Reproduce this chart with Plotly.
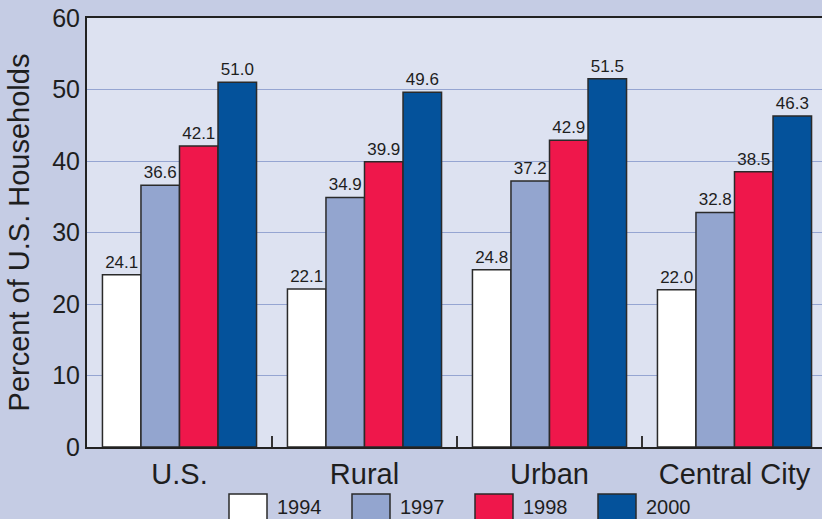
import plotly.graph_objects as go

categories = ["U.S.", "Rural", "Urban", "Central City"]
years = ["1994", "1997", "1998", "2000"]
values_1994 = [24.1, 22.1, 24.8, 22.0]
values_1997 = [36.6, 34.9, 37.2, 32.8]
values_1998 = [42.1, 39.9, 42.9, 38.5]
values_2000 = [51.0, 49.6, 51.5, 46.3]
y_ticks = [0, 10, 20, 30, 40, 50, 60]

series = [values_1994, values_1997, values_1998, values_2000]
colors = ["#ffffff", "#93a5cf", "#ef174b", "#04529b"]
FONT = "Liberation Sans, Arial, Helvetica, sans-serif"
TXT = "#1e1e1e"

xpos = list(range(len(categories)))
fig = go.Figure()
for yr, vals, col in zip(years, series, colors):
    fig.add_trace(go.Bar(
        x=xpos, y=vals, name=yr,
        marker=dict(color=col, line=dict(color="#2a2a2a", width=1.5)),
        texttemplate="%{y:.1f}", textposition="outside",
        textfont=dict(family=FONT, size=17, color=TXT),
        cliponaxis=False, showlegend=False,
    ))

# custom legend (large swatches)
x0 = 229
step = 123
for i, (yr, col) in enumerate(zip(years, colors)):
    xl = x0 + i * step
    fig.add_shape(type="rect", xref="paper", yref="paper",
                  x0=(xl - 87) / 735, x1=(xl + 38 - 87) / 735,
                  y0=(447 - 521) / 429, y1=(447 - 494) / 429,
                  fillcolor=col, line=dict(color="#2a2a2a", width=1.5))
    fig.add_annotation(xref="paper", yref="paper",
                       x=(xl + 46 - 87) / 735, y=(447 - 507) / 429,
                       text=yr, showarrow=False, xanchor="left", yanchor="middle",
                       font=dict(family=FONT, size=20, color=TXT))

fig.update_layout(
    width=822, height=519,
    margin=dict(l=87, r=0, t=18, b=72),
    paper_bgcolor="#c5cce4",
    plot_bgcolor="#dde2f1",
    barmode="group", bargap=0.167, bargroupgap=0,
    font=dict(family=FONT, color=TXT),
    showlegend=False,
)
fig.update_xaxes(
    tickvals=xpos, ticktext=categories,
    range=[-0.5, 3.5 - 5 / 185],
    ticks="", tickfont=dict(size=29, color=TXT),
    showline=True, linecolor="#222", linewidth=2, mirror=True,
    showgrid=False, zeroline=False, automargin=False,
    minor=dict(tickvals=[0.5, 1.5, 2.5], ticks="inside", ticklen=11,
               tickcolor="#333", tickwidth=1.5, showgrid=False),
)
fig.update_yaxes(
    range=[0, 60], tickvals=y_ticks,
    ticks="", tickfont=dict(size=25, color=TXT),
    showline=True, linecolor="#222", linewidth=2, mirror=True,
    showgrid=True, gridcolor="#95a5d2", gridwidth=1, zeroline=False, automargin=False,
    title=dict(text="Percent of U.S. Households", font=dict(size=29, color=TXT), standoff=14),
)
fig.write_html("out.html", config={"displayModeBar": False},
               post_script="document.body.style.margin='0';document.body.style.overflow='hidden';")
